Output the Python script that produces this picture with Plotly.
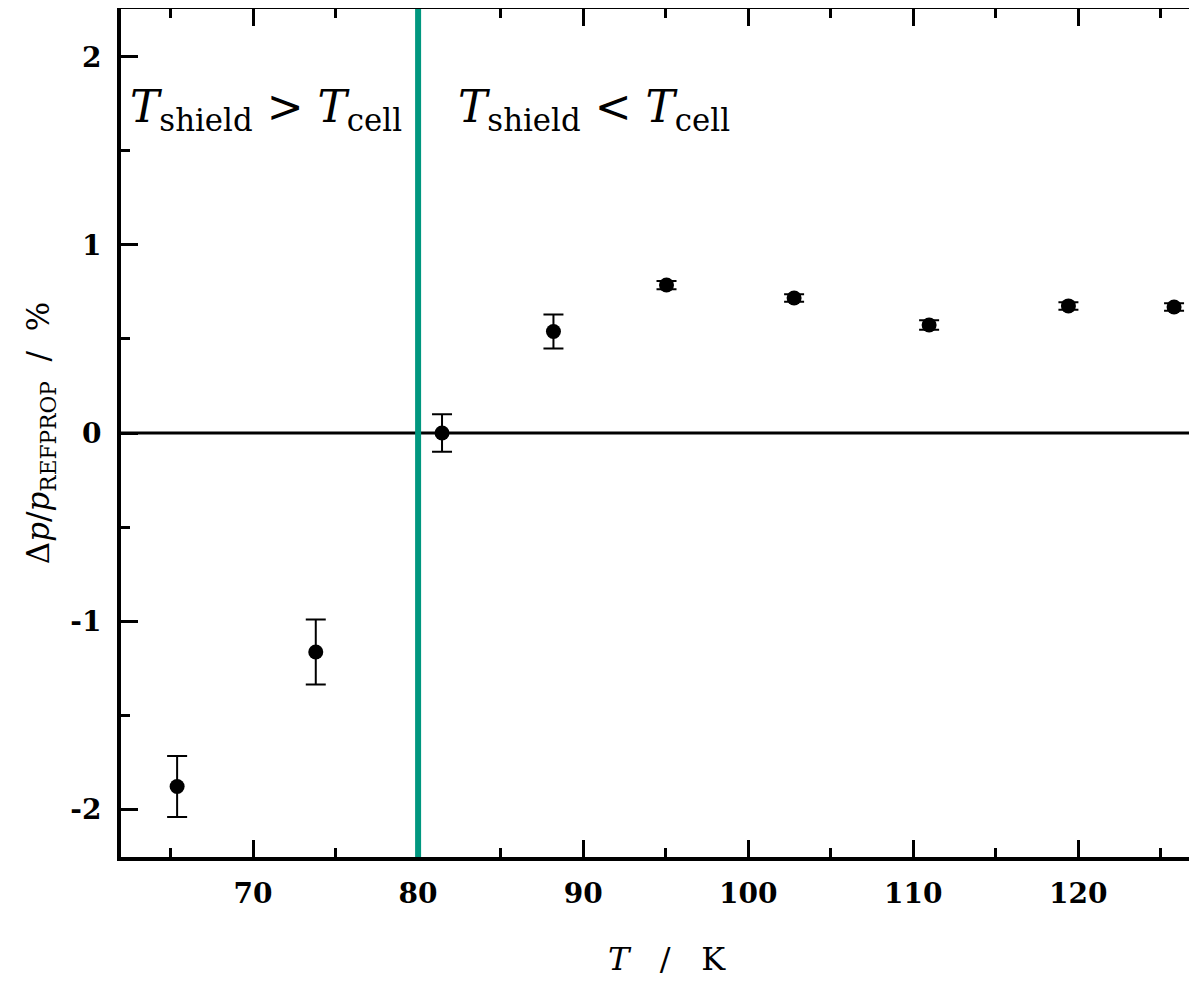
import plotly.graph_objects as go

# Data
temperature_K = [65.4, 73.8, 81.45, 88.2, 95.05, 102.78, 110.96, 119.4, 125.8]
deviation_pct = [-1.88, -1.165, 0.0, 0.54, 0.787, 0.718, 0.574, 0.676, 0.67]
uncertainty_pct = [0.162, 0.173, 0.10, 0.09, 0.022, 0.02, 0.025, 0.02, 0.02]

x_ticks = [70, 80, 90, 100, 110, 120]
y_ticks = [-2, -1, 0, 1, 2]
y_ticktext = ["-2", "-1", "0", "1", "2"]
boundary_T = 80
x_range = [62, 127.19]
y_range = [-2.255, 2.255]

TEAL = "#00977f"
tick_font = dict(family="DejaVu Serif", size=28, color="black", weight=700)

fig = go.Figure()

fig.add_trace(go.Scatter(
    x=temperature_K, y=deviation_pct, mode="markers",
    marker=dict(color="black", size=15),
    error_y=dict(type="data", array=uncertainty_pct, visible=True,
                 color="black", thickness=2, width=10),
    showlegend=False, hoverinfo="x+y",
))
# invisible trace so that the right-hand tick axis is drawn
fig.add_trace(go.Scatter(
    x=temperature_K, y=deviation_pct, yaxis="y2", mode="markers",
    marker=dict(opacity=0), showlegend=False, hoverinfo="skip",
))

# zero line
fig.add_shape(type="line", xref="x domain", yref="y", x0=0, x1=1, y0=0, y1=0,
              line=dict(color="black", width=3), layer="above")
# boundary line
fig.add_shape(type="line", xref="x", yref="y domain", x0=boundary_T, x1=boundary_T,
              y0=0, y1=1, line=dict(color=TEAL, width=6), layer="above")

ann_font = dict(family="DejaVu Serif", size=44, color="black")
fig.add_annotation(x=62.45, y=1.72, xref="x", yref="y", xanchor="left", yanchor="middle",
                   text="<i>T</i><sub>shield</sub> > <i>T</i><sub>cell</sub>",
                   showarrow=False, font=ann_font)
fig.add_annotation(x=82.3, y=1.72, xref="x", yref="y", xanchor="left", yanchor="middle",
                   text="<i>T</i><sub>shield</sub> < <i>T</i><sub>cell</sub>",
                   showarrow=False, font=ann_font)
# x-axis title (placed as in the reference, centred on the full original frame)
fig.add_annotation(x=0.5074, y=0, xref="paper", yref="paper", xanchor="center",
                   yanchor="middle", yshift=-102, showarrow=False,
                   text="<i>T</i>   /   K",
                   font=dict(family="DejaVu Serif", size=32, color="black"))

fig.update_layout(
    width=1189, height=975,
    margin=dict(l=113, r=0, t=1, b=126),
    paper_bgcolor="white", plot_bgcolor="white",
    xaxis=dict(
        range=x_range, tickvals=x_ticks, ticks="inside", ticklen=17, tickwidth=3,
        tickcolor="black", showline=True, linecolor="black", linewidth=4,
        mirror="ticks", showgrid=False, zeroline=False, automargin=False,
        tickfont=tick_font, ticklabelstandoff=8,
        minor=dict(dtick=5, tick0=0, ticks="inside", ticklen=9, tickwidth=3,
                   tickcolor="black", showgrid=False),
    ),
    yaxis=dict(
        range=y_range, tickvals=y_ticks, ticktext=y_ticktext, ticks="inside",
        ticklen=17, tickwidth=3, tickcolor="black", showline=True,
        linecolor="black", linewidth=4, mirror=False, showgrid=False,
        zeroline=False, automargin=False, tickfont=tick_font, ticklabelstandoff=10,
        minor=dict(dtick=0.5, tick0=0, ticks="inside", ticklen=9, tickwidth=3,
                   tickcolor="black", showgrid=False),
        title=dict(text="Δ<i>p</i>/<i>p</i><sub>REFPROP</sub>  /  %", standoff=12,
                   font=dict(family="DejaVu Serif", size=31, color="black")),
    ),
    yaxis2=dict(
        range=y_range, overlaying="y", side="right", tickvals=y_ticks,
        ticks="inside", ticklen=4, tickwidth=3, tickcolor="black",
        showticklabels=False, showline=False, showgrid=False, zeroline=False,
        automargin=False,
    ),
)

fig.write_html("out.html")
